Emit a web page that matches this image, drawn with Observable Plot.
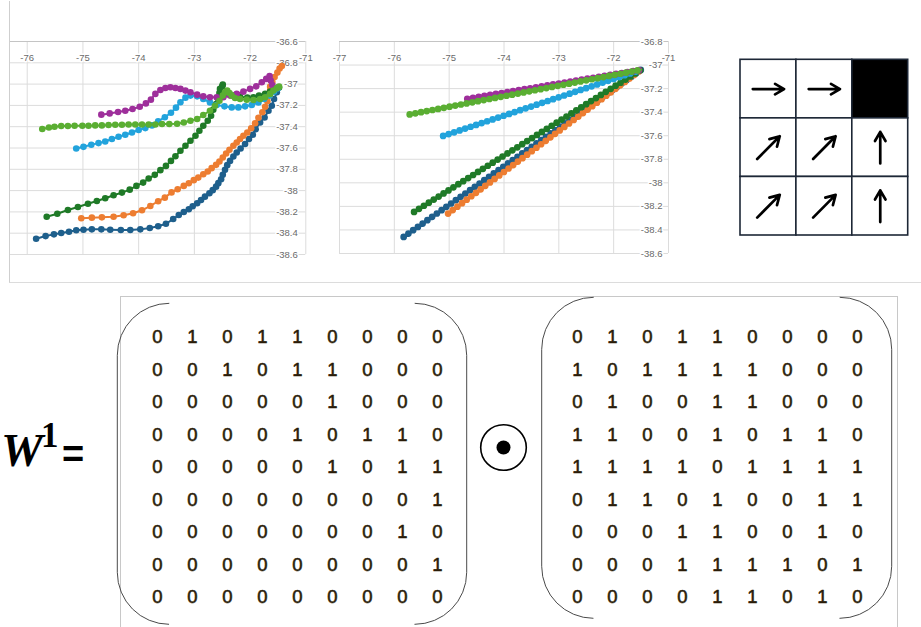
<!DOCTYPE html>
<html><head><meta charset="utf-8">
<script src="https://cdn.jsdelivr.net/npm/d3@7"></script>
<script src="https://cdn.jsdelivr.net/npm/@observablehq/plot@0.6"></script>
<style>
html,body{margin:0;padding:0;background:#fff;}
#root{position:relative;width:921px;height:627px;overflow:hidden;background:#fff;}
</style></head><body><div id="root"></div>
<script>
// ---------- data ----------
const seriesNames = ["darkBlue","orange","darkGreen","lightBlue","purple","lightGreen"];
const seriesColors = ["#1e5f8c","#ed7d31","#1f7a27","#22a3dc","#9e2f9b","#5aae32"];

const darkBlueX = [-75.84,-75.67,-75.52,-75.39,-75.25,-75.12,-74.99,-74.84,-74.67,-74.51,-74.32,-74.15,-73.97,-73.80,-73.65,-73.51,-73.38,-73.28,-73.19,-73.10,-73.03,-72.95,-72.88,-72.81,-72.73,-72.67,-72.61,-72.57,-72.52,-72.49,-72.45,-72.41,-72.36,-72.30,-72.24,-72.17,-72.09,-72.02,-71.95,-71.90,-71.82,-71.74,-71.67,-71.61,-71.57,-71.52,-71.49];
const darkBlueY = [-38.452,-38.427,-38.411,-38.398,-38.386,-38.373,-38.367,-38.364,-38.364,-38.367,-38.370,-38.370,-38.364,-38.351,-38.335,-38.311,-38.267,-38.229,-38.201,-38.175,-38.147,-38.119,-38.088,-38.057,-38.025,-37.996,-37.963,-37.930,-37.893,-37.852,-37.805,-37.761,-37.721,-37.680,-37.642,-37.605,-37.563,-37.516,-37.476,-37.424,-37.360,-37.313,-37.250,-37.203,-37.140,-37.077,-37.030];

const orangeX = [-75.03,-74.84,-74.66,-74.45,-74.27,-74.10,-73.94,-73.79,-73.65,-73.53,-73.41,-73.30,-73.19,-73.10,-73.01,-72.93,-72.84,-72.76,-72.69,-72.61,-72.55,-72.49,-72.43,-72.37,-72.30,-72.24,-72.18,-72.12,-72.05,-71.98,-71.91,-71.85,-71.78,-71.73,-71.69,-71.65,-71.64,-71.64,-71.60,-71.56,-71.51,-71.47,-71.43];
const orangeY = [-38.260,-38.254,-38.251,-38.245,-38.232,-38.213,-38.185,-38.144,-38.100,-38.066,-38.017,-37.987,-37.956,-37.931,-37.902,-37.878,-37.846,-37.821,-37.789,-37.758,-37.727,-37.689,-37.652,-37.617,-37.579,-37.548,-37.516,-37.485,-37.454,-37.414,-37.367,-37.316,-37.264,-37.212,-37.160,-37.108,-37.061,-37.024,-36.981,-36.934,-36.892,-36.854,-36.831];

const darkGreenX = [-75.65,-75.46,-75.27,-75.09,-74.91,-74.75,-74.60,-74.45,-74.30,-74.16,-74.04,-73.92,-73.82,-73.71,-73.61,-73.51,-73.42,-73.34,-73.25,-73.16,-73.07,-72.98,-72.91,-72.84,-72.76,-72.70,-72.66,-72.61,-72.58,-72.55,-72.54,-72.50,-72.49,-72.43,-72.30,-72.18,-72.05,-71.94,-71.84,-71.73,-71.64,-71.55,-71.48];
const darkGreenY = [-38.245,-38.217,-38.182,-38.154,-38.123,-38.097,-38.072,-38.044,-38.019,-37.991,-37.956,-37.925,-37.887,-37.852,-37.808,-37.768,-37.721,-37.678,-37.626,-37.579,-37.532,-37.485,-37.438,-37.391,-37.344,-37.297,-37.240,-37.187,-37.134,-37.083,-37.045,-37.021,-37.005,-37.080,-37.108,-37.118,-37.127,-37.123,-37.108,-37.090,-37.071,-37.052,-37.033];

const lightBlueX = [-75.12,-74.99,-74.85,-74.72,-74.60,-74.48,-74.36,-74.24,-74.12,-74.00,-73.88,-73.76,-73.65,-73.53,-73.42,-73.33,-73.25,-73.16,-73.07,-72.95,-72.84,-72.72,-72.60,-72.46,-72.33,-72.21,-72.09,-71.97,-71.85,-71.75,-71.65,-71.57,-71.50];
const lightBlueY = [-37.605,-37.589,-37.570,-37.554,-37.539,-37.516,-37.495,-37.476,-37.454,-37.431,-37.413,-37.388,-37.349,-37.311,-37.269,-37.221,-37.170,-37.127,-37.108,-37.115,-37.140,-37.172,-37.196,-37.209,-37.219,-37.219,-37.209,-37.196,-37.172,-37.140,-37.108,-37.071,-37.040];

const purpleX = [-74.67,-74.52,-74.37,-74.24,-74.11,-73.98,-73.87,-73.78,-73.70,-73.61,-73.52,-73.43,-73.34,-73.25,-73.16,-73.07,-72.95,-72.84,-72.72,-72.60,-72.48,-72.36,-72.24,-72.12,-72.00,-71.89,-71.79,-71.71,-71.65,-71.63,-71.60,-71.57];
const purpleY = [-37.287,-37.275,-37.262,-37.250,-37.234,-37.212,-37.181,-37.146,-37.092,-37.055,-37.036,-37.030,-37.036,-37.045,-37.061,-37.077,-37.099,-37.115,-37.124,-37.124,-37.124,-37.108,-37.092,-37.071,-37.045,-37.021,-36.983,-36.951,-36.925,-36.967,-37.008,-37.043];

const lightGreenX = [-75.73,-75.61,-75.51,-75.39,-75.27,-75.15,-75.01,-74.90,-74.78,-74.66,-74.54,-74.42,-74.30,-74.18,-74.06,-73.94,-73.82,-73.70,-73.58,-73.45,-73.31,-73.19,-73.07,-72.95,-72.84,-72.72,-72.63,-72.55,-72.49,-72.45,-72.41,-72.37,-72.33,-72.27,-72.18,-72.06,-71.94,-71.82,-71.73,-71.64,-71.58,-71.52,-71.48];
const lightGreenY = [-37.422,-37.407,-37.400,-37.394,-37.394,-37.391,-37.391,-37.391,-37.388,-37.388,-37.384,-37.382,-37.382,-37.379,-37.379,-37.379,-37.379,-37.379,-37.375,-37.375,-37.372,-37.360,-37.344,-37.328,-37.290,-37.250,-37.203,-37.156,-37.108,-37.077,-37.061,-37.083,-37.108,-37.130,-37.140,-37.146,-37.149,-37.140,-37.124,-37.092,-37.061,-37.038,-37.024];

// straight-line paths (second chart): start and end of each series
const straightStartX = [-75.83,-75.02,-75.64,-75.11,-74.67,-75.72];
const straightStartY = [-38.459,-38.261,-38.247,-37.602,-37.286,-37.419];
const straightEndX = [-71.50,-71.50,-71.50,-71.50,-71.50,-71.50];
const straightEndY = [-37.040,-37.040,-37.040,-37.040,-37.040,-37.040];

const chart1XTicks = [-76,-75,-74,-73,-72,-71];
const chart1YTicks = [-36.6,-36.8,-37,-37.2,-37.4,-37.6,-37.8,-38,-38.2,-38.4,-38.6];
const chart2XTicks = [-77,-76,-75,-74,-73,-72,-71];
const chart2YTicks = [-36.8,-37,-37.2,-37.4,-37.6,-37.8,-38,-38.2,-38.4,-38.6];

// grid world policy: E = right, NE = diagonal, N = up, X = black cell
const policy = [["E","E","X"],["NE","NE","N"],["NE","NE","N"]];

const matrixA = ["010110000","001011000","000001000","000010110","000001011","000000001","000000010","000000001","000000000"];
const matrixB = ["010110000","101111000","010011000","110010110","111101111","011010011","000110010","000111101","000011010"];

// ---------- helpers ----------
const root = document.getElementById("root");
function place(node, left, top) {
  node.style.position = "absolute";
  node.style.left = left + "px";
  node.style.top = top + "px";
  root.appendChild(node);
  return node;
}
const trajX = [darkBlueX, orangeX, darkGreenX, lightBlueX, purpleX, lightGreenX];
const trajY = [darkBlueY, orangeY, darkGreenY, lightBlueY, purpleY, lightGreenY];
const trajRows = seriesNames.flatMap((s, i) => trajX[i].map((x, j) => ({series: s, x, y: trajY[i][j]})));

const labelFont = "'Liberation Sans', Arial, sans-serif";
const baseStyle = {background: "transparent", overflow: "visible", fontFamily: labelFont, fontSize: "9.5px"};
const gridColor = "#dcdcdc";
const labelColor = "#6a6a6a";

function axisMarks(xTicks, yTicks) {
  return [
    Plot.ruleX(xTicks, {x: d => d, stroke: gridColor, strokeWidth: 1}),
    Plot.ruleY(yTicks, {y: d => d, stroke: gridColor, strokeWidth: 1}),
    Plot.ruleY([yTicks[0]], {y: d => d, stroke: "#c4c4c4", strokeWidth: 1}),
  ];
}
function labelMarks(xTicks, yTicks, dxY) {
  return [
    Plot.text(xTicks, {x: d => d, frameAnchor: "top", dy: 12.5, text: d => String(d), fill: labelColor, stroke: "white", strokeWidth: 3, paintOrder: "stroke"}),
    Plot.text(yTicks, {y: d => d, frameAnchor: "right", textAnchor: "end", dx: dxY, text: d => String(d), fill: labelColor, stroke: "white", strokeWidth: 3, paintOrder: "stroke"}),
  ];
}

// ---------- chart 1: trajectories ----------
const chart1 = Plot.plot({
  width: 320, height: 282,
  marginLeft: 10, marginRight: 14.7, marginTop: 41, marginBottom: 28,
  x: {domain: [-76.3, -71], axis: null},
  y: {domain: [-38.6, -36.6], axis: null},
  style: baseStyle,
  marks: [
    ...axisMarks(chart1XTicks, chart1YTicks),
    ...labelMarks(chart1XTicks, chart1YTicks, -8),
    ...seriesNames.flatMap((s, i) => {
      const d = trajRows.filter(r => r.series === s);
      return [
        Plot.line(d, {x: "x", y: "y", stroke: seriesColors[i], strokeWidth: 2}),
        Plot.dot(d, {x: "x", y: "y", fill: seriesColors[i], r: 3.3})
      ];
    })
  ]
});
place(chart1, 0, 0);

// ---------- chart 2: straight paths ----------
const chart2 = Plot.plot({
  width: 360, height: 282,
  marginLeft: 19, marginRight: 12, marginTop: 41, marginBottom: 29,
  x: {domain: [-77, -71], axis: null},
  y: {domain: [-38.6, -36.8], axis: null},
  style: baseStyle,
  marks: [
    ...axisMarks(chart2XTicks, chart2YTicks),
    ...labelMarks(chart2XTicks, chart2YTicks, -6),
    ...seriesNames.flatMap((s, i) => {
      const pts = [{x: straightStartX[i], y: straightStartY[i]}, {x: straightEndX[i], y: straightEndY[i]}];
      return [
        Plot.line(pts, {x: "x", y: "y", stroke: seriesColors[i], strokeWidth: 2}),
        Plot.line(pts, {x: "x", y: "y", stroke: seriesColors[i], strokeWidth: 6.7, strokeLinecap: "round", strokeDasharray: "0 5.8"})
      ];
    })
  ]
});
place(chart2, 320, 0);

// ---------- grid world ----------
const cells = policy.flatMap((row, r) => row.map((a, c) => ({r, c, a})));
const dirs = {E: [1, 0], NE: [0.72, 0.72], N: [0, 1]};
const hx = 0.28, hy = 0.27;
const arrows = cells.filter(d => d.a !== "X").map(d => {
  const [ux, uy] = dirs[d.a];
  const cx = d.c + 0.5, cy = d.r + 0.5;
  return {x1: cx - ux * hx, y1: cy + uy * hy, x2: cx + ux * hx, y2: cy - uy * hy};
});
const grid = Plot.plot({
  width: 190, height: 200,
  marginLeft: 10, marginRight: 12.3, marginTop: 9.3, marginBottom: 15,
  x: {domain: [0, 3], axis: null},
  y: {domain: [0, 3], reverse: true, axis: null},
  style: {background: "transparent", overflow: "visible"},
  marks: [
    Plot.rect(cells, {x1: "c", x2: d => d.c + 1, y1: "r", y2: d => d.r + 1, fill: d => d.a === "X" ? "black" : "white", stroke: "#1d2736", strokeWidth: 1.6}),
    Plot.arrow(arrows, {x1: "x1", y1: "y1", x2: "x2", y2: "y2", stroke: "black", strokeWidth: 2.7, headLength: 7, headAngle: 60})
  ]
});
place(grid, 730, 50);

// ---------- matrices ----------
const col0 = 157, colStep = 35, row0 = 337, rowStep = 32.5, bottomTop = 285, bottomH = 342;
const rightOffset = 12;
const toCol = px => (px - col0) / colStep;
const toRow = py => (py - row0) / rowStep;
const cellsA = matrixA.flatMap((row, r) => [...row].map((v, c) => ({r, c, v})));
const cellsB = matrixB.flatMap((row, r) => [...row].map((v, c) => ({r, c: c + rightOffset, v})));
const bracketR = 52;
const brackets = [
  {left: 117.3, right: 466.7, top: 303.3, bottom: 624.3},
  {left: 541.7, right: 891.7, top: 297.3, bottom: 618.3}
];
function bracketMark(b) {
  const w = b.right - b.left, h = b.bottom - b.top, r = bracketR;
  const side = Math.PI * r + (h - 2 * r);
  return Plot.rect([b], {
    x1: d => toCol(d.left), x2: d => toCol(d.right), y1: d => toRow(d.top), y2: d => toRow(d.bottom),
    rx: r, fill: "none", stroke: "#4a4a4a", strokeWidth: 1,
    strokeDasharray: `0 ${w - 2 * r} ${side} ${w - 2 * r} ${side}`
  });
}
const digitStyle = {fontSize: 18.5, fontFamily: labelFont, fill: "#2a1c08", stroke: "#2a1c08", strokeWidth: 0.55};
const odot = [{x: toCol(503), y: toRow(447)}];
const matrices = Plot.plot({
  width: 921, height: bottomH,
  marginLeft: col0, marginRight: 921 - (col0 + 20 * colStep),
  marginTop: row0 - bottomTop, marginBottom: bottomH - (row0 + 8 * rowStep - bottomTop),
  x: {domain: [0, 20], axis: null},
  y: {domain: [0, 8], reverse: true, axis: null},
  style: {background: "transparent", overflow: "visible"},
  marks: [
    ...brackets.map(bracketMark),
    Plot.text(cellsA, {x: "c", y: "r", text: "v", ...digitStyle}),
    Plot.text(cellsB, {x: "c", y: "r", text: "v", ...digitStyle}),
    Plot.dot(odot, {x: "x", y: "y", r: 22.8, stroke: "black", strokeWidth: 1.6, fill: "none"}),
    Plot.dot(odot, {x: "x", y: "y", r: 7, fill: "black"})
  ]
});
place(matrices, 0, bottomTop);

// ---------- formula label W^1 = ----------
const formula = d3.create("svg").attr("width", 130).attr("height", 120).style("overflow", "visible");
formula.append("text").attr("x", 1).attr("y", 86).attr("font-family", "'Liberation Serif', 'DejaVu Serif', serif")
  .attr("font-weight", "bold").attr("font-style", "italic").attr("font-size", 47).text("W");
formula.append("text").attr("x", 41).attr("y", 67).attr("font-family", "'Liberation Serif', 'DejaVu Serif', serif")
  .attr("font-weight", "bold").attr("font-size", 35).text("1");
formula.append("text").attr("x", 62).attr("y", 87).attr("font-family", labelFont)
  .attr("font-weight", "bold").attr("font-size", 38).text("=");
place(formula.node(), 0, 380);

// ---------- panel frames ----------
const topFrame = document.createElement("div");
topFrame.style.cssText = "width:930px;height:282px;border-left:1px solid #cfcfcf;border-bottom:1px solid #dcdcdc;box-sizing:border-box;";
place(topFrame, 9, 1);
const bottomFrame = document.createElement("div");
bottomFrame.style.cssText = "width:778px;height:360px;border:1px solid #c8c8c8;box-sizing:border-box;";
place(bottomFrame, 120, 296);
root.insertBefore(topFrame, root.firstChild);
root.insertBefore(bottomFrame, root.firstChild);
</script></body></html>
